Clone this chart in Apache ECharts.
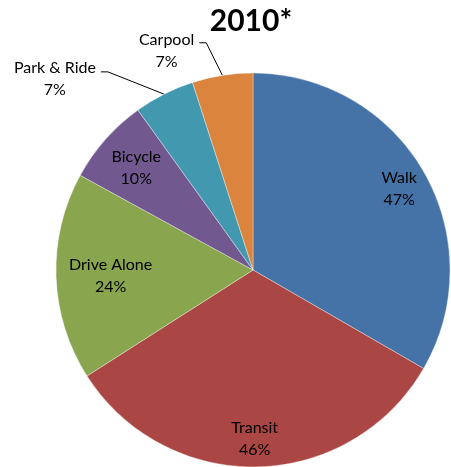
<!DOCTYPE html>
<html>
<head>
<meta charset="utf-8">
<script src="https://cdn.jsdelivr.net/npm/echarts@6/dist/echarts.min.js"></script>
<style>
html,body{margin:0;padding:0;background:#fff;}
#c{width:451px;height:467px;}
</style>
</head>
<body>
<div id="c"></div>
<script>
const titleText = '2010*';
const categories = ['Walk', 'Transit', 'Drive Alone', 'Bicycle', 'Park & Ride', 'Carpool'];
const shares = [47, 46, 24, 10, 7, 7];
const colors = ['#4572A7', '#AA4643', '#89A54E', '#71588F', '#4198AF', '#DB843D'];
const outsideLabels = ['Park & Ride', 'Carpool'];

const FONT = 'Lato, "Open Sans", sans-serif';
const R = 197;
const CENTER = [253, 270];

// label nudges (styling only)
const insideNudge = {'Walk': [2, 2], 'Drive Alone': [24, 0], 'Bicycle': [8, 8], 'Transit': [-2, 2]};
const outsideLine = {'Park & Ride': {length: 25, length2: 52, pad: 13}, 'Carpool': {length: 33, length2: 18, pad: 16}};

const richText = {
  t: {fontFamily: FONT, fontSize: 16, lineHeight: 22, color: '#000', align: 'center'}
};

const mainData = categories.map((name, i) => {
  const isOut = outsideLabels.indexOf(name) >= 0;
  const item = {name: name, value: shares[i], itemStyle: {color: colors[i]}};
  if (isOut) {
    const o = outsideLine[name];
    item.label = {show: true, position: 'outside', padding: [o.pad, 0, 0, 0]};
    item.labelLine = {show: true, length: o.length, length2: o.length2};
  } else {
    item.label = {show: false};
    item.labelLine = {show: false};
  }
  return item;
});

const labelData = categories.map((name, i) => {
  const isOut = outsideLabels.indexOf(name) >= 0;
  const item = {name: name, value: shares[i]};
  item.label = {show: !isOut, offset: insideNudge[name] || [0, 0]};
  return item;
});

const chart = echarts.init(document.getElementById('c'), null, {renderer: 'canvas'});
chart.setOption({
  backgroundColor: '#fff',
  animation: false,
  title: {
    text: titleText,
    left: 246,
    top: 1,
    textAlign: 'center',
    textStyle: {fontFamily: FONT, fontSize: 30, fontWeight: 'bold', color: '#000'}
  },
  series: [
    {
      type: 'pie',
      center: CENTER,
      radius: [0, R],
      startAngle: 90,
      clockwise: true,
      avoidLabelOverlap: false,
      silent: true,
      emphasis: {disabled: true},
      itemStyle: {borderColor: 'rgba(255,255,255,0.6)', borderWidth: 0.6},
      label: {
        formatter: '{t|{b}}\n{t|{c}%}',
        rich: richText,
        distanceToLabelLine: 5
      },
      labelLine: {lineStyle: {color: '#000', width: 1}},
      labelLayout: function (params) {
        const p = params.labelLinePoints;
        if (!p || p.length < 3) return {};
        const end = p[2];
        const dir = end[0] < p[0][0] ? 1 : -1;
        return {labelLinePoints: [p[0], [end[0] + dir * 7, end[1]], end]};
      },
      data: mainData
    },
    {
      type: 'pie',
      center: CENTER,
      radius: [Math.round(R * 0.66), R],
      startAngle: 90,
      clockwise: true,
      avoidLabelOverlap: false,
      silent: true,
      emphasis: {disabled: true},
      itemStyle: {color: 'rgba(0,0,0,0)', borderWidth: 0},
      label: {
        position: 'inside',
        formatter: '{t|{b}}\n{t|{c}%}',
        rich: richText
      },
      labelLine: {show: false},
      data: labelData
    }
  ]
});
</script>
</body>
</html>
